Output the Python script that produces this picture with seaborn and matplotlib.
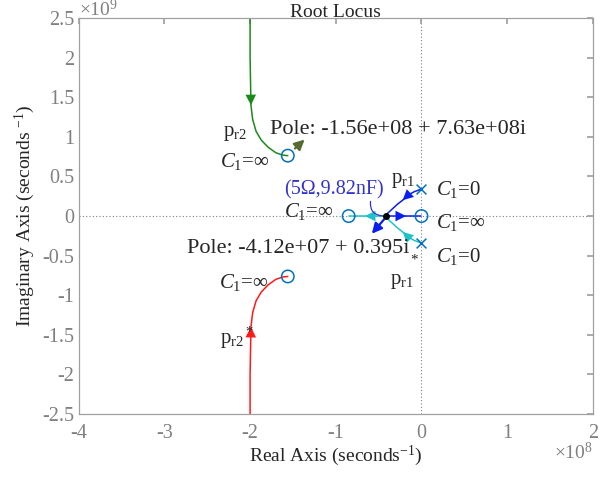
import numpy as np
import pandas as pd
import matplotlib
matplotlib.use("Agg")
import matplotlib.pyplot as plt
import seaborn as sns

sns.set_theme(style="white")
plt.rcParams["font.family"] = ["Liberation Serif", "DejaVu Serif"]
plt.rcParams["mathtext.fontset"] = "custom"
plt.rcParams["mathtext.rm"] = "Liberation Serif"
plt.rcParams["mathtext.it"] = "Liberation Serif:italic"

# locus branches, real part in 1e8, imag part in 1e9
pr2_re = [-2.00, -2.00, -1.99, -1.97, -1.93, -1.87, -1.79, -1.70, -1.62, -1.56]
pr2_im = [2.70, 2.00, 1.40, 1.22, 1.07, 0.96, 0.87, 0.80, 0.77, 0.763]
pr1_re = [0.00, -0.08, -0.15, -0.22, -0.28, -0.33, -0.37, -0.40, -0.412]
pr1_im = [0.34, 0.31, 0.27, 0.20, 0.15, 0.10, 0.06, 0.03, 0.00]
blue_axis_re = [-0.412, -0.18, 0.00]
cyan_axis_re = [-0.412, -0.66, -0.85]

zeros_re = [-1.56, -1.56, -0.85, 0.00]
zeros_im = [0.763, -0.763, 0.00, 0.00]
poles_re = [0.00, 0.00]
poles_im = [0.34, -0.34]
bp_re, bp_im = -0.412, 0.0

xticks = [-4, -3, -2, -1, 0, 1, 2]
yticks = [-2.5, -2, -1.5, -1, -0.5, 0, 0.5, 1, 1.5, 2, 2.5]

green = "#1a8a1a"
red = "#ff1a1a"
blue = "#0a1ef0"
cyan = "#1ec3c8"
mblue = "#0072BD"
gray = "#808080"

fig = plt.figure(figsize=(6.15, 4.78), dpi=100)
ax = fig.add_axes([0.128, 0.134, 0.836, 0.828])

ax.axhline(0, color=gray, lw=0.8, ls=(0, (1, 2)), zorder=0)
ax.axvline(0, color=gray, lw=0.8, ls=(0, (1, 2)), zorder=0)

branches = [
    (pr2_re, pr2_im, green, 2),
    (pr2_re, [-v for v in pr2_im], red, 2),
    (pr1_re, pr1_im, blue, 3),
    (pr1_re, [-v for v in pr1_im], cyan, 3),
    (blue_axis_re, [0, 0, 0], blue, 1),
    (cyan_axis_re, [0, 0, 0], cyan, 1),
]
for xs, ys, c, k in branches:
    d = pd.DataFrame({"re": xs, "im": ys})
    sns.lineplot(data=d, x="re", y="im", sort=False, color=c, lw=1.1, ax=ax, estimator=None)
    ax.annotate("", xy=(xs[k], ys[k]),
                xytext=(xs[k - 1] * 0.2 + xs[k] * 0.8, ys[k - 1] * 0.2 + ys[k] * 0.8),
                arrowprops=dict(arrowstyle="-|>", color=c, lw=0, mutation_scale=19,
                                shrinkA=0, shrinkB=0))

sns.scatterplot(x=zeros_re, y=zeros_im, marker="o", s=80, facecolor="none",
                edgecolor=mblue, linewidth=1.1, ax=ax, zorder=5)
sns.scatterplot(x=poles_re, y=poles_im, marker="x", s=50, color=mblue,
                linewidth=1.1, ax=ax, zorder=5)
ax.plot(bp_re, bp_im, "o", color="black", ms=4, zorder=6)

# data tip arrows
ax.annotate("", xy=(-1.34, 0.99), xytext=(-1.50, 0.83),
            arrowprops=dict(arrowstyle="-|>", color="#556b2f", lw=1.6, mutation_scale=15))
ax.annotate("", xy=(-0.60, -0.25), xytext=(bp_re, -0.01),
            arrowprops=dict(arrowstyle="-|>", color=blue, lw=1.6, mutation_scale=15))
ax.annotate("", xy=(bp_re - 0.01, 0.0), xytext=(-0.59, 0.22),
            arrowprops=dict(arrowstyle="-", color="#3333cc", lw=0.9,
                            connectionstyle="arc3,rad=0.6"))

fs = 15
C1 = r"$C_{\mathrm{1}}$="
ax.text(-1.77, 1.09, "Pole: -1.56e+08 + 7.63e+08i", fontsize=16, va="center")
ax.text(-2.74, -0.41, "Pole: -4.12e+07 + 0.395i", fontsize=16, va="center")
ax.text(-2.32, 1.04, r"p$_{\mathrm{r2}}$", fontsize=fs, va="center")
ax.text(-2.35, 0.69, C1 + "∞", fontsize=fs, va="center")
ax.text(-0.36, 0.45, r"p$_{\mathrm{r1}}$", fontsize=fs, va="center")
ax.text(-1.60, 0.33, "(5Ω,9.82nF)", fontsize=14.5, va="center", color="#3333cc")
ax.text(0.17, 0.33, C1 + "0", fontsize=fs, va="center")
ax.text(-1.60, 0.06, C1 + "∞", fontsize=fs, va="center")
ax.text(0.17, -0.08, C1 + "∞", fontsize=fs, va="center")
ax.text(0.17, -0.51, C1 + "0", fontsize=fs, va="center")
ax.text(-0.09, -0.55, "*", fontsize=11, va="center", ha="center")
ax.text(-0.37, -0.83, r"p$_{\mathrm{r1}}$", fontsize=fs, va="center")
ax.text(-2.36, -0.84, C1 + "∞", fontsize=fs, va="center")
ax.text(-2.35, -1.54, r"p$_{\mathrm{r2}}$$^*$", fontsize=fs, va="center")

ax.set_xlim(-4, 2)
ax.set_ylim(-2.5, 2.5)
ax.set_xticks(xticks)
ax.set_yticks(yticks)
ax.set_xticklabels([f"{t:g}" for t in xticks], fontfamily="Liberation Serif")
ax.set_yticklabels([f"{t:g}" for t in yticks], fontfamily="Liberation Serif")
ax.tick_params(direction="in", length=4, color="#a0a0a0", labelcolor=gray,
               labelsize=14.5, top=True, right=True, pad=3)
ax.tick_params(axis="x", pad=7)
for s in ax.spines.values():
    s.set_color("#a0a0a0")
    s.set_linewidth(0.9)

ax.set_title("Root Locus", fontsize=14, pad=1)
ax.set_xlabel(r"Real Axis (seconds$^{\mathrm{-1}}$)", fontsize=14, labelpad=1)
ax.set_ylabel(r"Imaginary Axis (seconds $^{\mathrm{-1}}$)", fontsize=14, labelpad=4)
ax.text(0.0, 0.995, r"$\times$10$^{\mathrm{9}}$", transform=ax.transAxes, fontsize=14,
        color=gray, va="bottom", ha="left")
ax.text(1.0, -0.07, r"$\times$10$^{\mathrm{8}}$", transform=ax.transAxes, fontsize=14,
        color=gray, va="top", ha="right")

fig.savefig("out.png", dpi=100)
